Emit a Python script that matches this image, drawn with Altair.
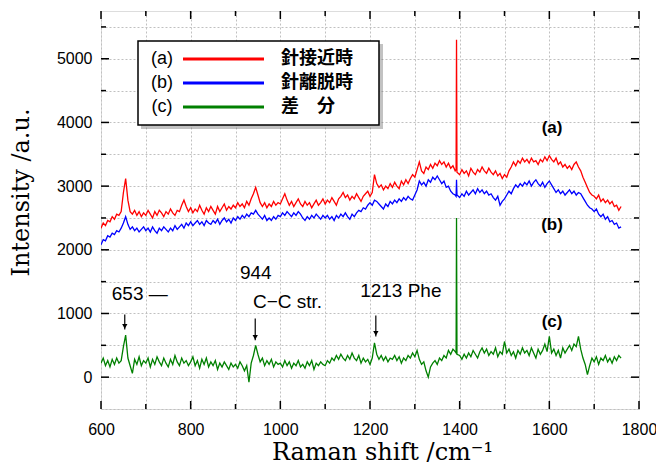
import altair as alt
import pandas as pd

# ---------------- data ----------------
series_names = ["(a)", "(b)", "(c)"]
legend_labels = ["針接近時", "針離脱時", "差　分"]
series_colors = ["#ff0000", "#0000ff", "#008000"]

# sampling grid of the spectra (cm^-1): every 5 cm^-1, plus the narrow spike at 1393
raman_shift = list(range(600, 1391, 5)) + [1392, 1393, 1394] + list(range(1400, 1761, 5))

intensity_a = [
    2340, 2420, 2380, 2460, 2440, 2520, 2480, 2560, 2540, 2600,   # 600-645
    2900, 3120, 2780, 2600, 2560, 2620, 2540, 2600, 2520, 2580,   # 650-695
    2540, 2620, 2560, 2500, 2600, 2540, 2620, 2580, 2520, 2600,   # 700-745
    2560, 2640, 2580, 2540, 2620, 2600, 2700, 2780, 2680, 2600,   # 750-795
    2660, 2580, 2640, 2600, 2700, 2620, 2560, 2660, 2600, 2680,   # 800-845
    2620, 2560, 2680, 2600, 2660, 2720, 2620, 2680, 2640, 2700,   # 850-895
    2660, 2740, 2680, 2720, 2660, 2760, 2700, 2800, 2880, 2980,   # 900-945
    2860, 2740, 2680, 2740, 2660, 2720, 2680, 2760, 2700, 2740,   # 950-995
    2720, 2800, 2880, 2780, 2700, 2760, 2680, 2740, 2800, 2720,   # 1000-1045
    2680, 2760, 2700, 2740, 2660, 2720, 2780, 2700, 2740, 2800,   # 1050-1095
    2720, 2780, 2740, 2820, 2760, 2700, 2800, 2840, 2900, 2820,   # 1100-1145
    2860, 2780, 2840, 2800, 2880, 2820, 2760, 2840, 2880, 2920,   # 1150-1195
    2840, 2900, 3180, 3040, 2980, 3020, 2940, 3000, 2960, 3040,   # 1200-1245
    2980, 3060, 3000, 2960, 3080, 3020, 3100, 3040, 3120, 3180,   # 1250-1295
    3140, 3260, 3380, 3240, 3200, 3300, 3260, 3340, 3280, 3360,   # 1300-1345
    3320, 3400, 3340, 3380, 3300, 3360, 3280, 3320, 3240,         # 1350-1390
    3260, 5300, 3220,                                             # 1392-1394
    3180, 3260, 3200, 3240, 3160, 3280, 3220, 3180, 3260, 3220,   # 1400-1445
    3300, 3240, 3200, 3280, 3220, 3180, 3240, 3160, 3200, 3120,   # 1450-1495
    3180, 3140, 3240, 3300, 3380, 3320, 3400, 3360, 3440, 3380,   # 1500-1545
    3420, 3360, 3440, 3380, 3400, 3340, 3420, 3380, 3460, 3400,   # 1550-1595
    3480, 3420, 3380, 3440, 3340, 3380, 3300, 3340, 3280, 3320,   # 1600-1645
    3260, 3340, 3380, 3300, 3240, 3140, 3060, 2980, 2900, 2860,   # 1650-1695
    2840, 2800, 2860, 2760, 2800, 2740, 2780, 2720, 2760, 2680,   # 1700-1745
    2700, 2620, 2680,                                             # 1750-1760
]

intensity_b = [
    2080, 2160, 2140, 2220, 2200, 2260, 2240, 2300, 2280, 2340,   # 600-645
    2420, 2520, 2400, 2320, 2360, 2300, 2340, 2280, 2320, 2360,   # 650-695
    2300, 2340, 2280, 2360, 2300, 2260, 2340, 2300, 2360, 2320,   # 700-745
    2280, 2340, 2300, 2380, 2320, 2360, 2400, 2340, 2420, 2380,   # 750-795
    2440, 2380, 2420, 2460, 2400, 2440, 2380, 2460, 2420, 2400,   # 800-845
    2460, 2420, 2480, 2400, 2460, 2500, 2440, 2480, 2420, 2500,   # 850-895
    2460, 2520, 2480, 2540, 2500, 2560, 2520, 2580, 2560, 2620,   # 900-945
    2560, 2520, 2480, 2540, 2460, 2500, 2460, 2520, 2480, 2540,   # 950-995
    2520, 2580, 2540, 2600, 2560, 2520, 2580, 2540, 2600, 2560,   # 1000-1045
    2500, 2460, 2520, 2480, 2540, 2500, 2560, 2520, 2480, 2540,   # 1050-1095
    2500, 2540, 2480, 2520, 2460, 2540, 2500, 2560, 2520, 2580,   # 1100-1145
    2520, 2480, 2560, 2520, 2580, 2620, 2600, 2660, 2640, 2700,   # 1150-1195
    2740, 2700, 2780, 2760, 2720, 2680, 2640, 2720, 2680, 2760,   # 1200-1245
    2720, 2780, 2740, 2800, 2760, 2820, 2780, 2840, 2800, 2780,   # 1250-1295
    2860, 2940, 3080, 3020, 3060, 3000, 3100, 3060, 3140, 3100,   # 1300-1345
    3160, 3100, 3040, 3080, 2980, 3000, 2920, 2880, 2860,         # 1350-1390
    2840, 3100, 2860,                                             # 1392-1394
    2820, 2880, 2840, 2920, 2860, 2900, 2940, 2880, 2960, 2900,   # 1400-1445
    2940, 2880, 2920, 2860, 2880, 2820, 2780, 2840, 2700, 2760,   # 1450-1495
    2800, 2860, 2920, 2880, 2960, 3020, 2980, 3040, 3000, 3060,   # 1500-1545
    3020, 3080, 3000, 3060, 3100, 3040, 3000, 3060, 2980, 3040,   # 1550-1595
    3080, 3020, 2960, 2900, 2940, 2880, 2920, 2860, 2900, 2940,   # 1600-1645
    2880, 2920, 2860, 2900, 2880, 2820, 2760, 2700, 2660, 2640,   # 1650-1695
    2600, 2640, 2560, 2520, 2560, 2480, 2520, 2440, 2460, 2400,   # 1700-1745
    2420, 2340, 2360,                                             # 1750-1760
]

intensity_c = [
    220, 300, 180, 260, 160, 280, 200, 300, 220, 260,   # 600-645
    480, 660, 300, 180, 60, 280, 200, 320, 180, 260,    # 650-695
    220, 300, 160, 280, 200, 320, 240, 180, 300, 220,   # 700-745
    160, 280, 200, 340, 240, 180, 300, 220, 260, 180,   # 750-795
    240, 320, 180, 260, 140, 280, 200, 300, 160, 240,   # 800-845
    180, 260, 120, 220, 160, 240, 180, 120, 220, 160,   # 850-895
    200, 140, 240, 180, 100, 180, -80, 220, 340, 500,   # 900-945
    360, 240, 300, 180, 260, 200, 280, 160, 240, 200,   # 950-995
    220, 160, 260, 180, 240, 140, 220, 180, 260, 160,   # 1000-1045
    200, 140, 240, 180, 260, 120, 220, 180, 240, 200,   # 1050-1095
    180, 260, 220, 300, 260, 340, 280, 360, 300, 260,   # 1100-1145
    340, 280, 380, 300, 260, 340, 220, 300, 240, 280,   # 1150-1195
    200, 300, 540, 360, 280, 340, 260, 320, 240, 300,   # 1200-1245
    280, 340, 260, 320, 220, 300, 260, 340, 300, 380,   # 1250-1295
    320, 420, 280, 200, 240, 100, 0, 160, 220, 260,     # 1300-1345
    200, 300, 260, 340, 300, 420, 360, 440, 400,        # 1350-1390
    380, 2500, 360,                                     # 1392-1394
    340, 280, 360, 300, 380, 320, 420, 360, 300, 400,   # 1400-1445
    460, 380, 440, 340, 400, 360, 460, 320, 400, 360,   # 1450-1495
    560, 380, 440, 340, 400, 300, 420, 360, 460, 380,   # 1500-1545
    420, 340, 460, 380, 300, 440, 360, 420, 520, 400,   # 1550-1595
    640, 380, 440, 340, 420, 300, 460, 380, 440, 500,   # 1600-1645
    420, 520, 480, 640, 440, 300, 200, 40, 180, 300,    # 1650-1695
    240, 320, 200, 300, 260, 340, 240, 300, 220, 320,   # 1700-1745
    260, 340, 300,                                      # 1750-1760
]

# peak annotations (data coordinates)
peak_positions = [653, 944, 1213]
arrow_top = [984, 922, 969]
arrow_tip = [750, 578, 640]

annotation_texts = ["653 —", "944", "C−C str.", "1213 Phe"]
annotation_x = [624, 910, 939, 1178]
annotation_y = [1312, 1640, 1188, 1360]

curve_label_x = [1606, 1606, 1606]
curve_label_y = [3906, 2390, 860]

x_ticks_major = [600, 800, 1000, 1200, 1400, 1600, 1800]
x_ticks_minor = [700, 900, 1100, 1300, 1500, 1700]
y_ticks_major = [0, 1000, 2000, 3000, 4000, 5000]
y_ticks_minor = [500, 1500, 2500, 3500, 4500, 5500]
x_grid = [600, 700, 800, 900, 1000, 1100, 1200, 1300, 1400, 1500, 1600, 1700, 1800]
y_grid = [-500, 0, 500, 1000, 1500, 2000, 2500, 3000, 3500, 4000, 4500, 5000, 5500]

# ---------------- layout constants ----------------
W, H = 538, 398
X_DOMAIN = [600, 1800]
Y_DOMAIN = [-500, 5750]
LABEL_FONT = "Liberation Sans"
SERIF = "DejaVu Serif"
CJK = "Noto Sans CJK JP"

rows = []
for name, vals in zip(series_names, [intensity_a, intensity_b, intensity_c]):
    for xv, yv in zip(raman_shift, vals):
        rows.append({"series": name, "x": xv, "y": yv})
spec = pd.DataFrame(rows)

xs = alt.Scale(domain=X_DOMAIN, nice=False, zero=False)
ys = alt.Scale(domain=Y_DOMAIN, nice=False, zero=False)

x_axis = alt.Axis(
    values=x_grid, grid=True, gridDash=[2, 2], gridColor="#c0c0c0", gridWidth=1,
    ticks=False, domain=False, labelFlush=False, labelOverlap=False,
    labelExpr="datum.value % 200 == 0 ? datum.label : ''", format="d",
    labelFont=LABEL_FONT, labelFontSize=16, labelColor="black", labelPadding=12,
    title="Raman shift /cm⁻¹", titleFont=SERIF, titleFontSize=24, titleFontWeight="normal",
    titleColor="black", titleX=281, titleY=50, titleAlign="center", titleBaseline="alphabetic",
)
y_axis = alt.Axis(
    values=y_grid, grid=True, gridDash=[2, 2], gridColor="#c0c0c0", gridWidth=1,
    ticks=False, domain=False, labelFlush=False, labelOverlap=False,
    labelExpr="(datum.value % 1000 == 0 && datum.value >= 0) ? datum.label : ''", format="d",
    labelFont=LABEL_FONT, labelFontSize=16, labelColor="black", labelPadding=9,
    title="Intensity /a.u.", titleFont=SERIF, titleFontSize=24, titleFontWeight="normal",
    titleColor="black", titleX=-80, titleY=181, titleAngle=270, titleAlign="center",
    titleBaseline="middle",
)


def XQ(f):
    return alt.X(f, scale=xs, axis=x_axis)


def YQ(f):
    return alt.Y(f, scale=ys, axis=y_axis)


lines = alt.Chart(spec).mark_line(strokeWidth=1.3, clip=True).encode(
    x=XQ("x:Q"),
    y=YQ("y:Q"),
    color=alt.Color("series:N", scale=alt.Scale(domain=series_names, range=series_colors), legend=None),
)

layers = [lines]


# inward ticks on all four sides
def xticks(vals, length):
    df = pd.DataFrame({"v": vals})
    bottom = alt.Chart(df).mark_rule(color="black", strokeWidth=1.5).encode(
        x=XQ("v:Q"), y=alt.value(H), y2=alt.value(H - length))
    top = alt.Chart(df).mark_rule(color="black", strokeWidth=1.5).encode(
        x=XQ("v:Q"), y=alt.value(0), y2=alt.value(length))
    return [bottom, top]


def yticks(vals, length):
    df = pd.DataFrame({"v": vals})
    left = alt.Chart(df).mark_rule(color="black", strokeWidth=1.5).encode(
        y=YQ("v:Q"), x=alt.value(0), x2=alt.value(length))
    right = alt.Chart(df).mark_rule(color="black", strokeWidth=1.5).encode(
        y=YQ("v:Q"), x=alt.value(W), x2=alt.value(W - length))
    return [left, right]


layers += xticks(x_ticks_major, 8) + xticks(x_ticks_minor, 5)
layers += yticks(y_ticks_major, 8) + yticks(y_ticks_minor, 5)

# arrows
arr = pd.DataFrame({"x": peak_positions, "top": arrow_top, "tip": arrow_tip})
layers.append(alt.Chart(arr).mark_rule(color="black", strokeWidth=1.2).encode(
    x=XQ("x:Q"), y=YQ("top:Q"), y2="tip:Q"))
layers.append(alt.Chart(arr).mark_point(shape="triangle-down", filled=True, color="black",
                                         size=28, opacity=1, yOffset=-3).encode(
    x=XQ("x:Q"), y=YQ("tip:Q")))

# peak annotations
ann = pd.DataFrame({"t": annotation_texts, "x": annotation_x, "y": annotation_y})
layers.append(alt.Chart(ann).mark_text(align="left", baseline="middle", font=LABEL_FONT,
                                        fontSize=19, color="black").encode(
    x=XQ("x:Q"), y=YQ("y:Q"), text="t:N"))

# curve labels
cl = pd.DataFrame({"t": series_names, "x": curve_label_x, "y": curve_label_y})
layers.append(alt.Chart(cl).mark_text(align="center", baseline="middle", font=LABEL_FONT,
                                       fontSize=17, fontWeight="bold", color="black").encode(
    x=XQ("x:Q"), y=YQ("y:Q"), text="t:N"))

# legend box (drawn by hand)
one = pd.DataFrame({"k": [0]})
layers.append(alt.Chart(one).mark_rect(fill="#777777", opacity=0.45).encode(
    x=alt.value(40), x2=alt.value(282), y=alt.value(33), y2=alt.value(118)))
layers.append(alt.Chart(one).mark_rect(fill="white", stroke="black", strokeWidth=1.5).encode(
    x=alt.value(37), x2=alt.value(278), y=alt.value(30), y2=alt.value(114)))
for i, (name, lab, col) in enumerate(zip(series_names, legend_labels, series_colors)):
    yy = 48 + 24 * i
    d = pd.DataFrame({"name": [name], "lab": [lab]})
    layers.append(alt.Chart(d).mark_text(align="center", baseline="middle", font=LABEL_FONT,
                                          fontSize=18, color="black").encode(
        x=alt.value(61), y=alt.value(yy), text="name:N"))
    layers.append(alt.Chart(d).mark_rule(color=col, strokeWidth=3).encode(
        x=alt.value(82), x2=alt.value(163), y=alt.value(yy)))
    layers.append(alt.Chart(d).mark_text(align="left", baseline="middle", font=CJK,
                                          fontSize=18, fontWeight="bold", color="black").encode(
        x=alt.value(180), y=alt.value(yy), text="lab:N"))

chart = alt.layer(*layers).properties(
    width=W, height=H,
    autosize=alt.AutoSizeParams(type="none"),
    padding={"left": 93, "top": 3, "right": 17, "bottom": 55},
).configure_view(stroke="black", strokeWidth=1.5).configure(background="white")

chart.save("out.html", embed_options={"renderer": "svg", "actions": False})
